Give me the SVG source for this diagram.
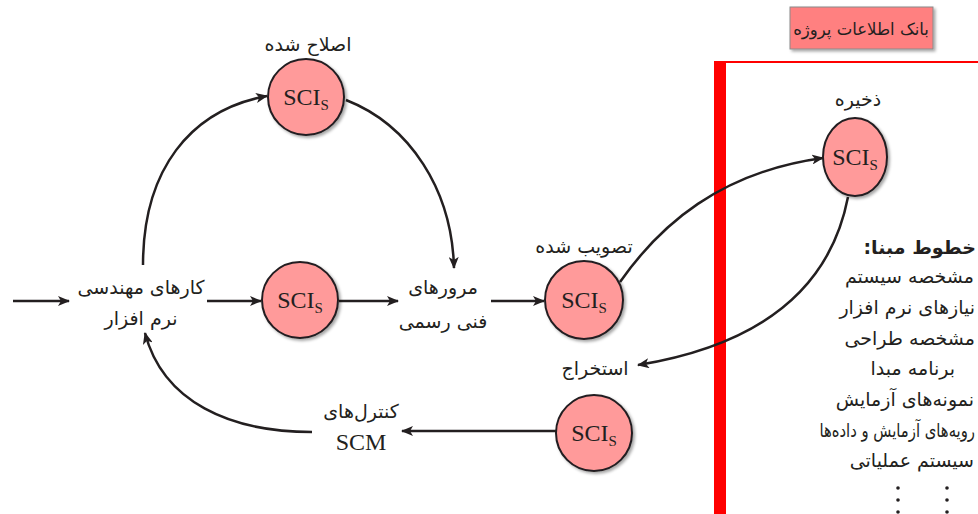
<svg xmlns="http://www.w3.org/2000/svg" width="978" height="514" viewBox="0 0 978 514">
<defs>
<marker id="ah" viewBox="0 0 12 10" refX="11" refY="5" markerWidth="12" markerHeight="10" markerUnits="userSpaceOnUse" orient="auto">
<path d="M0,0 L12,5 L0,10 L3,5 Z" fill="#231f20"/>
</marker>
<filter id="sh" x="-20%" y="-20%" width="150%" height="150%">
<feDropShadow dx="2" dy="2" stdDeviation="1.5" flood-color="#000" flood-opacity="0.35"/>
</filter>
</defs>
<style>
.c{fill:#ff9a9a;stroke:#231f20;stroke-width:2;filter:url(#sh)}
.sci{font-family:"Liberation Serif",serif;font-size:24px;fill:#231f20;text-anchor:middle}
.sub{font-size:15px}
.fa{font-family:"DejaVu Sans","Noto Sans",sans-serif;font-size:19px;fill:#231f20;text-anchor:middle}
.li{font-family:"DejaVu Sans","Noto Sans",sans-serif;font-size:19px;fill:#231f20;text-anchor:end}
.ln{fill:none;stroke:#231f20;stroke-width:2.5;marker-end:url(#ah)}
</style>
<rect width="978" height="514" fill="#fff"/>
<g id="db-frame">
<rect x="714" y="61" width="12" height="453" fill="#ff0000"/>
<rect x="714" y="61" width="264" height="2" fill="#ff0000"/>
</g>
<g id="db-title">
<rect x="790" y="7" width="143" height="42" fill="#ff8080" stroke="#8a8a8a" stroke-width="1" filter="url(#sh)"/>
<text class="fa" x="861" y="35" style="font-size:16.5px">بانک اطلاعات پروژه</text>
</g>
<g id="connectors">
<line class="ln" x1="13" y1="301" x2="69" y2="301"/>
<line class="ln" x1="207" y1="301" x2="261" y2="301"/>
<line class="ln" x1="339" y1="301" x2="398" y2="301"/>
<line class="ln" x1="491" y1="301" x2="544" y2="301"/>
<path class="ln" d="M143,265 C143,170 190,110 267,96"/>
<path class="ln" d="M346,100 C410,125 452,190 454,268"/>
<path class="ln" d="M620,282 C660,225 720,172 823,158"/>
<path class="ln" d="M848,197 C830,290 760,345 638,365"/>
<line class="ln" x1="556" y1="431" x2="402" y2="431"/>
<path class="ln" d="M312,432 C230,432 163,402 145,333"/>
</g>
<g id="sci-modified">
<text class="fa" x="308" y="51">اصلاح شده</text>
<circle class="c" cx="306" cy="97" r="38"/>
<text class="sci" x="306" y="105">SCI<tspan class="sub" dy="5">S</tspan></text>
</g>
<g id="sw-eng">
<text class="fa" x="141" y="294">کارهای مهندسی</text>
<text class="fa" x="141" y="325">نرم افزار</text>
</g>
<g id="sci-mid">
<circle class="c" cx="300" cy="300" r="38"/>
<text class="sci" x="300" y="308">SCI<tspan class="sub" dy="5">S</tspan></text>
</g>
<g id="review">
<text class="fa" x="443" y="294">مرورهای</text>
<text class="fa" x="443" y="328">فنی رسمی</text>
</g>
<g id="sci-approved">
<text class="fa" x="584" y="253">تصویب شده</text>
<circle class="c" cx="584" cy="300" r="39"/>
<text class="sci" x="584" y="308">SCI<tspan class="sub" dy="5">S</tspan></text>
</g>
<g id="sci-stored">
<text class="fa" x="858" y="106">ذخیره</text>
<ellipse class="c" cx="855" cy="157" rx="32" ry="39"/>
<text class="sci" x="855" y="165">SCI<tspan class="sub" dy="5">S</tspan></text>
</g>
<g id="extract">
<text class="fa" x="595" y="375">استخراج</text>
</g>
<g id="sci-extracted">
<circle class="c" cx="594" cy="433" r="38"/>
<text class="sci" x="594" y="441">SCI<tspan class="sub" dy="5">S</tspan></text>
</g>
<g id="scm">
<text class="fa" x="361" y="418">کنترل‌های</text>
<text class="sci" x="361" y="450">SCM</text>
</g>
<g id="baselines">
<text class="li" x="976" y="254" style="font-weight:bold">خطوط مبنا:&#x200F;</text>
<text class="li" x="974" y="283">مشخصه سیستم</text>
<text class="li" x="975" y="314">نیازهای نرم افزار</text>
<text class="li" x="975" y="345">مشخصه طراحی</text>
<text class="li" x="955" y="375">برنامه مبدا</text>
<text class="li" x="974" y="406">نمونه‌های آزمایش</text>
<text class="li" transform="translate(975,437) scale(0.78,1)" x="0" y="0">رویه‌های آزمایش و داده‌ها</text>
<text class="li" x="974" y="467">سیستم عملیاتی</text>
<g fill="#231f20">
<circle cx="898" cy="488" r="1.8"/><circle cx="898" cy="500" r="1.8"/><circle cx="898" cy="512" r="1.8"/>
<circle cx="947" cy="488" r="1.8"/><circle cx="947" cy="500" r="1.8"/><circle cx="947" cy="512" r="1.8"/>
</g>
</g>
</svg>
